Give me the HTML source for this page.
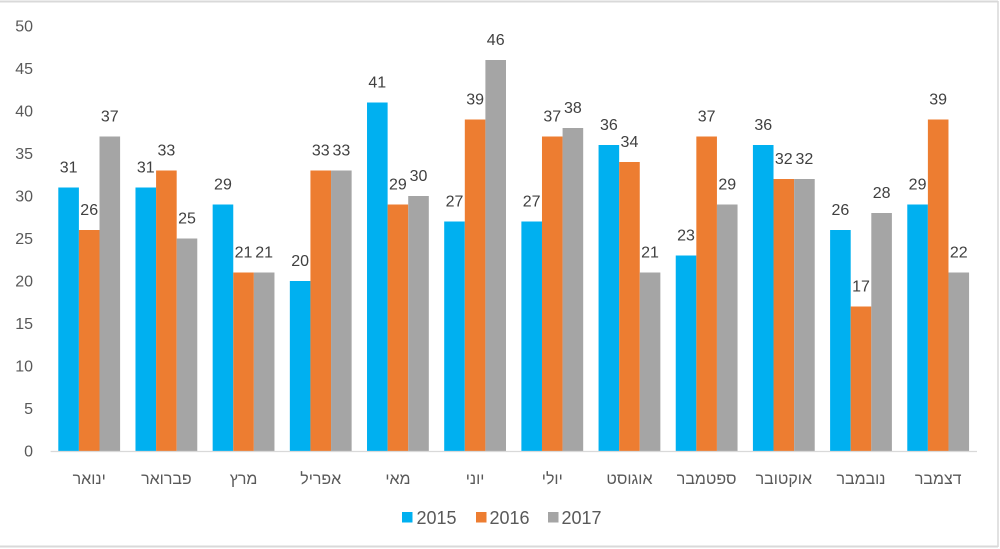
<!DOCTYPE html>
<html><head><meta charset="utf-8"><style>
html,body{margin:0;padding:0;background:#fff;}
svg{display:block;}
text{font-family:"Liberation Sans","DejaVu Sans",sans-serif;}
</style></head><body>
<svg width="1000" height="549" viewBox="0 0 1000 549" xmlns="http://www.w3.org/2000/svg">
<rect x="0" y="0" width="1000" height="549" fill="#fff"/>
<line x1="0" y1="1.5" x2="998" y2="1.5" stroke="#d9d9d9" stroke-width="2"/>
<line x1="998" y1="1" x2="998" y2="547" stroke="#d9d9d9" stroke-width="1.5"/>
<line x1="0" y1="546.5" x2="998" y2="546.5" stroke="#d9d9d9" stroke-width="2"/>

<g font-size="16" fill="#595959" text-anchor="end">
<text x="33" y="456.5">0</text>
<text x="33" y="414">5</text>
<text x="33" y="371.5">10</text>
<text x="33" y="329">15</text>
<text x="33" y="286.5">20</text>
<text x="33" y="244">25</text>
<text x="33" y="201.5">30</text>
<text x="33" y="159">35</text>
<text x="33" y="116.5">40</text>
<text x="33" y="74">45</text>
<text x="33" y="31.5">50</text>
</g>

<g>
<!-- Jan -->
<rect x="58.3" y="187.5" width="20.6" height="263.5" fill="#00B0F0"/>
<rect x="78.9" y="230" width="20.6" height="221" fill="#ED7D31"/>
<rect x="99.5" y="136.5" width="20.6" height="314.5" fill="#A5A5A5"/>
<!-- Feb -->
<rect x="135.48" y="187.5" width="20.6" height="263.5" fill="#00B0F0"/>
<rect x="156.08" y="170.5" width="20.6" height="280.5" fill="#ED7D31"/>
<rect x="176.68" y="238.5" width="20.6" height="212.5" fill="#A5A5A5"/>
<!-- Mar -->
<rect x="212.66" y="204.5" width="20.6" height="246.5" fill="#00B0F0"/>
<rect x="233.26" y="272.5" width="20.6" height="178.5" fill="#ED7D31"/>
<rect x="253.86" y="272.5" width="20.6" height="178.5" fill="#A5A5A5"/>
<!-- Apr -->
<rect x="289.84" y="281" width="20.6" height="170" fill="#00B0F0"/>
<rect x="310.44" y="170.5" width="20.6" height="280.5" fill="#ED7D31"/>
<rect x="331.04" y="170.5" width="20.6" height="280.5" fill="#A5A5A5"/>
<!-- May -->
<rect x="367.02" y="102.5" width="20.6" height="348.5" fill="#00B0F0"/>
<rect x="387.62" y="204.5" width="20.6" height="246.5" fill="#ED7D31"/>
<rect x="408.22" y="196" width="20.6" height="255" fill="#A5A5A5"/>
<!-- Jun -->
<rect x="444.2" y="221.5" width="20.6" height="229.5" fill="#00B0F0"/>
<rect x="464.8" y="119.5" width="20.6" height="331.5" fill="#ED7D31"/>
<rect x="485.4" y="60" width="20.6" height="391" fill="#A5A5A5"/>
<!-- Jul -->
<rect x="521.38" y="221.5" width="20.6" height="229.5" fill="#00B0F0"/>
<rect x="541.98" y="136.5" width="20.6" height="314.5" fill="#ED7D31"/>
<rect x="562.58" y="128" width="20.6" height="323" fill="#A5A5A5"/>
<!-- Aug -->
<rect x="598.56" y="145" width="20.6" height="306" fill="#00B0F0"/>
<rect x="619.16" y="162" width="20.6" height="289" fill="#ED7D31"/>
<rect x="639.76" y="272.5" width="20.6" height="178.5" fill="#A5A5A5"/>
<!-- Sep -->
<rect x="675.74" y="255.5" width="20.6" height="195.5" fill="#00B0F0"/>
<rect x="696.34" y="136.5" width="20.6" height="314.5" fill="#ED7D31"/>
<rect x="716.94" y="204.5" width="20.6" height="246.5" fill="#A5A5A5"/>
<!-- Oct -->
<rect x="752.92" y="145" width="20.6" height="306" fill="#00B0F0"/>
<rect x="773.52" y="179" width="20.6" height="272" fill="#ED7D31"/>
<rect x="794.12" y="179" width="20.6" height="272" fill="#A5A5A5"/>
<!-- Nov -->
<rect x="830.1" y="230" width="20.6" height="221" fill="#00B0F0"/>
<rect x="850.7" y="306.5" width="20.6" height="144.5" fill="#ED7D31"/>
<rect x="871.3" y="213" width="20.6" height="238" fill="#A5A5A5"/>
<!-- Dec -->
<rect x="907.28" y="204.5" width="20.6" height="246.5" fill="#00B0F0"/>
<rect x="927.88" y="119.5" width="20.6" height="331.5" fill="#ED7D31"/>
<rect x="948.48" y="272.5" width="20.6" height="178.5" fill="#A5A5A5"/>
</g>

<line x1="50.6" y1="451.5" x2="977" y2="451.5" stroke="#d9d9d9" stroke-width="1.2"/>

<g font-size="16" fill="#404040" text-anchor="middle">
<text x="68.6" y="172.5">31</text><text x="89.2" y="215">26</text><text x="109.8" y="121.5">37</text>
<text x="145.78" y="172.5">31</text><text x="166.38" y="155.5">33</text><text x="186.98" y="223.5">25</text>
<text x="222.96" y="189.5">29</text><text x="243.56" y="257.5">21</text><text x="264.16" y="257.5">21</text>
<text x="300.14" y="266">20</text><text x="320.74" y="155.5">33</text><text x="341.34" y="155.5">33</text>
<text x="377.32" y="87.5">41</text><text x="397.92" y="189.5">29</text><text x="418.52" y="181">30</text>
<text x="454.5" y="206.5">27</text><text x="475.1" y="104.5">39</text><text x="495.7" y="45">46</text>
<text x="531.68" y="206.5">27</text><text x="552.28" y="121.5">37</text><text x="572.88" y="113">38</text>
<text x="608.86" y="130">36</text><text x="629.46" y="147">34</text><text x="650.06" y="257.5">21</text>
<text x="686.04" y="240.5">23</text><text x="706.64" y="121.5">37</text><text x="727.24" y="189.5">29</text>
<text x="763.22" y="130">36</text><text x="783.82" y="164">32</text><text x="804.42" y="164">32</text>
<text x="840.4" y="215">26</text><text x="861" y="291.5">17</text><text x="881.6" y="198">28</text>
<text x="917.58" y="189.5">29</text><text x="938.18" y="104.5">39</text><text x="958.78" y="257.5">22</text>
</g>

<g font-size="16" fill="#595959" text-anchor="middle">
<text x="89.2" y="484">ינואר</text>
<text x="166.38" y="484">פברואר</text>
<text x="243.56" y="484">מרץ</text>
<text x="320.74" y="484">אפריל</text>
<text x="397.92" y="484">מאי</text>
<text x="475.1" y="484">יוני</text>
<text x="552.28" y="484">יולי</text>
<text x="629.46" y="484">אוגוסט</text>
<text x="706.64" y="484">ספטמבר</text>
<text x="783.82" y="484">אוקטובר</text>
<text x="861" y="484">נובמבר</text>
<text x="938.18" y="484">דצמבר</text>
</g>

<g font-size="18" fill="#595959">
<rect x="402" y="512" width="10.5" height="10.5" fill="#00B0F0"/>
<text x="416.5" y="524">2015</text>
<rect x="476" y="512" width="10.5" height="10.5" fill="#ED7D31"/>
<text x="489.5" y="524">2016</text>
<rect x="548" y="512" width="10.5" height="10.5" fill="#A5A5A5"/>
<text x="561.5" y="524">2017</text>
</g>
</svg>
</body></html>
